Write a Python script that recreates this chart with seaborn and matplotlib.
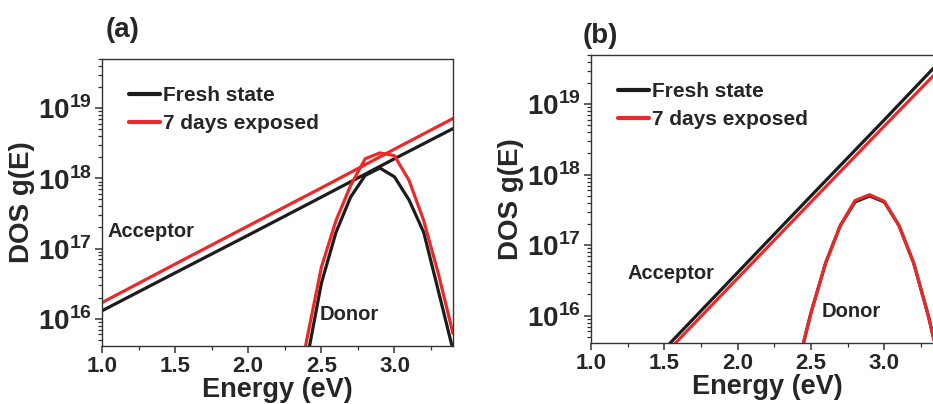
import numpy as np
import pandas as pd
import matplotlib
matplotlib.use("Agg")
import matplotlib.pyplot as plt
import seaborn as sns
from matplotlib.ticker import FixedLocator, LogLocator, NullFormatter, MultipleLocator

sns.set_style("ticks")
plt.rcParams["font.family"] = ["Liberation Sans", "DejaVu Sans"]
plt.rcParams["font.weight"] = "bold"
plt.rcParams["mathtext.fontset"] = "custom"
plt.rcParams["mathtext.rm"] = "Liberation Sans:bold"
plt.rcParams["mathtext.bf"] = "Liberation Sans:bold"

# acceptor lines (straight in log scale)
acc_energy = [1.0, 1.5, 2.0, 2.5, 3.0, 3.4]
acc_a_fresh = [1.3e16, 4.5e16, 1.55e17, 5.4e17, 1.9e18, 5.1e18]
acc_a_exposed = [1.7e16, 6.0e16, 2.1e17, 7.3e17, 2.6e18, 7.1e18]
acc_b_fresh = [2.75e14, 3.35e15, 4.1e16, 5.0e17, 6.0e18, 4.5e19]
acc_b_exposed = [2.3e14, 2.8e15, 3.4e16, 4.1e17, 4.9e18, 3.5e19]

# donor bands
don_energy = [2.3, 2.4, 2.5, 2.6, 2.7, 2.8, 2.9, 3.0, 3.1, 3.2, 3.3, 3.4]
don_a_fresh = [1.6e14, 2.5e15, 3.2e16, 1.7e17, 5.4e17, 1.1e18, 1.4e18, 1.05e18, 4.9e17, 1.7e17, 2.5e16, 3.6e15]
don_a_exposed = [3.2e14, 5.0e15, 5.4e16, 2.5e17, 7.9e17, 1.9e18, 2.3e18, 2.1e18, 9.3e17, 2.5e17, 4.4e16, 6.2e15]
don_b_fresh = [1.0e14, 1.6e15, 1.1e16, 5.6e16, 1.9e17, 4.1e17, 5.0e17, 4.1e17, 1.9e17, 5.6e16, 1.0e16, 1.3e15]
don_b_exposed = [1.0e14, 1.6e15, 1.1e16, 5.6e16, 1.9e17, 4.3e17, 5.2e17, 4.2e17, 1.9e17, 5.6e16, 1.0e16, 1.3e15]

x_ticks = [1.0, 1.5, 2.0, 2.5, 3.0]
y_ticks = [1e16, 1e17, 1e18, 1e19]
y_ticklabels = [r"$10^{16}$", r"$10^{17}$", r"$10^{18}$", r"$10^{19}$"]

BLACK = "#1c1c1c"
RED = "#ea2a2a"
LW = 2.3

fig = plt.figure(figsize=(9.33, 4.04), dpi=100)
ax_a = fig.add_axes([0.1093, 0.1436, 0.3762, 0.7104])
ax_b = fig.add_axes([0.6334, 0.151, 0.3773, 0.713])


def draw_panel(ax, acc_f, acc_e, don_f, don_e):
    sns.lineplot(x=acc_energy, y=acc_f, ax=ax, color=BLACK, lw=LW, label="Fresh state")
    sns.lineplot(x=acc_energy, y=acc_e, ax=ax, color=RED, lw=LW, label="7 days exposed")
    sns.lineplot(x=don_energy, y=don_f, ax=ax, color=BLACK, lw=LW)
    sns.lineplot(x=don_energy, y=don_e, ax=ax, color=RED, lw=LW)
    ax.set_yscale("log")
    ax.set_xlim(1.0, 3.4)
    ax.set_ylim(4.1e15, 5e19)
    ax.xaxis.set_major_locator(FixedLocator(x_ticks))
    ax.xaxis.set_minor_locator(MultipleLocator(0.25))
    ax.set_xticklabels([f"{v:.1f}" for v in x_ticks], fontsize=16, fontweight="bold")
    ax.yaxis.set_major_locator(FixedLocator(y_ticks))
    ax.set_yticklabels(y_ticklabels, fontsize=20)
    ax.yaxis.set_minor_locator(LogLocator(base=10, subs=np.arange(2, 10), numticks=30))
    ax.yaxis.set_minor_formatter(NullFormatter())
    ax.tick_params(axis="both", which="major", direction="out", length=5, width=1.1,
                   pad=2, color="#333333")
    ax.tick_params(axis="both", which="minor", direction="out", length=3, width=0.9,
                   color="#333333")
    ax.tick_params(top=False, right=False, which="both")
    for s in ax.spines.values():
        s.set_linewidth(1.0)
        s.set_color("#333333")
    ax.set_xlabel("Energy (eV)", fontsize=19.5, fontweight="bold", labelpad=0)
    ax.set_ylabel("DOS g(E)", fontsize=20, fontweight="bold", labelpad=2)
    leg = ax.legend(loc="upper left", bbox_to_anchor=(0.04, 0.95), frameon=False,
                    handlelength=1.5, handletextpad=0.15, labelspacing=0.45,
                    borderaxespad=0.2, prop={"size": 15, "weight": "bold"})
    for line in leg.get_lines():
        line.set_linewidth(3)


draw_panel(ax_a, acc_a_fresh, acc_a_exposed, don_a_fresh, don_a_exposed)
draw_panel(ax_b, acc_b_fresh, acc_b_exposed, don_b_fresh, don_b_exposed)

ax_a.text(1.04, 10**17.24, "Acceptor", fontsize=14.5, fontweight="bold", va="center")
ax_a.text(2.49, 10**16.06, "Donor", fontsize=14.5, fontweight="bold", va="center")
ax_b.text(1.25, 10**16.6, "Acceptor", fontsize=14.5, fontweight="bold", va="center")
ax_b.text(2.57, 10**16.06, "Donor", fontsize=14.5, fontweight="bold", va="center")

fig.text(0.113, 0.925, "(a)", fontsize=20, fontweight="bold", va="center")
fig.text(0.624, 0.912, "(b)", fontsize=20, fontweight="bold", va="center")

fig.savefig("out.png", dpi=100)
